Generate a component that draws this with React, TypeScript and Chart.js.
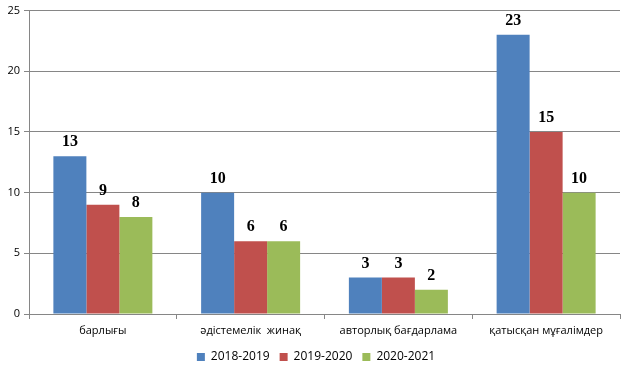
import React, { useEffect, useRef } from "react";
import { Chart, registerables } from "chart.js";

Chart.register(...registerables);

const categories = ["барлығы", "әдістемелік  жинақ", "авторлық бағдарлама", "қатысқан мұғалімдер"];
const series2018 = [13, 10, 3, 23];
const series2019 = [9, 6, 3, 15];
const series2020 = [8, 6, 2, 10];
const seriesNames = ["2018-2019", "2019-2020", "2020-2021"];
const yTicks = [0, 5, 10, 15, 20, 25];

const colors = ["#4F81BD", "#C0504D", "#9BBB59"];

const dataLabelPlugin = {
  id: "dataLabels",
  afterLayout(chart: any) {
    if (chart.legend) {
      chart.legend.left += 6;
      chart.legend.right += 6;
    }
  },
  afterDatasetsDraw(chart: any) {
    const ctx = chart.ctx;
    ctx.save();
    ctx.font = "bold 16px 'Liberation Serif', 'Times New Roman', serif";
    ctx.fillStyle = "#000";
    ctx.textAlign = "center";
    ctx.textBaseline = "bottom";
    chart.data.datasets.forEach((ds: any, i: number) => {
      const meta = chart.getDatasetMeta(i);
      meta.data.forEach((bar: any, j: number) => {
        ctx.fillText(String(ds.data[j]), bar.x, bar.y - 6);
      });
    });
    ctx.restore();
  },
};

export default function App() {
  const ref = useRef<HTMLCanvasElement>(null);
  useEffect(() => {
    document.body.style.margin = "0";
    const tickFont = { family: "'Open Sans', 'Liberation Sans', sans-serif", size: 11 };
    const legendFont = { family: "'Open Sans', 'Liberation Sans', sans-serif", size: 12 };
    const chart = new Chart(ref.current!, {
      type: "bar",
      data: {
        labels: categories,
        datasets: [series2018, series2019, series2020].map((d, i) => ({
          label: seriesNames[i],
          data: d,
          backgroundColor: colors[i],
          borderWidth: 0,
          barPercentage: 1,
          categoryPercentage: 0.67,
        })),
      },
      options: {
        animation: false,
        responsive: false,
        layout: { padding: { top: 8, right: 8, left: 0, bottom: 0 } },
        plugins: {
          tooltip: { enabled: false },
          legend: {
            position: "bottom",
            labels: {
              boxWidth: 8,
              boxHeight: 8,
              padding: 10,
              color: "#000",
              font: legendFont,
            },
          },
        },
        scales: {
          x: {
            grid: {
              offset: true,
              drawOnChartArea: false,
              drawTicks: true,
              tickLength: 5,
              color: "#868686",
            },
            border: { color: "#868686" },
            ticks: { color: "#000", font: tickFont, padding: 5, maxRotation: 0 },
            afterFit(scale: any) {
              scale.height = 27;
            },
          },
          y: {
            min: 0,
            max: 25,
            afterBuildTicks(scale: any) {
              scale.ticks = yTicks.map((v) => ({ value: v }));
            },
            grid: { color: "#868686", tickLength: 5 },
            border: { color: "#868686" },
            ticks: { color: "#000", font: tickFont, padding: 4 },
            afterFit(scale: any) {
              scale.width = 29;
            },
          },
        },
      },
      plugins: [dataLabelPlugin],
    });
    return () => chart.destroy();
  }, []);
  return (
    <div style={{ width: 628, height: 373 }}>
      <canvas ref={ref} width={628} height={373} />
    </div>
  );
}
